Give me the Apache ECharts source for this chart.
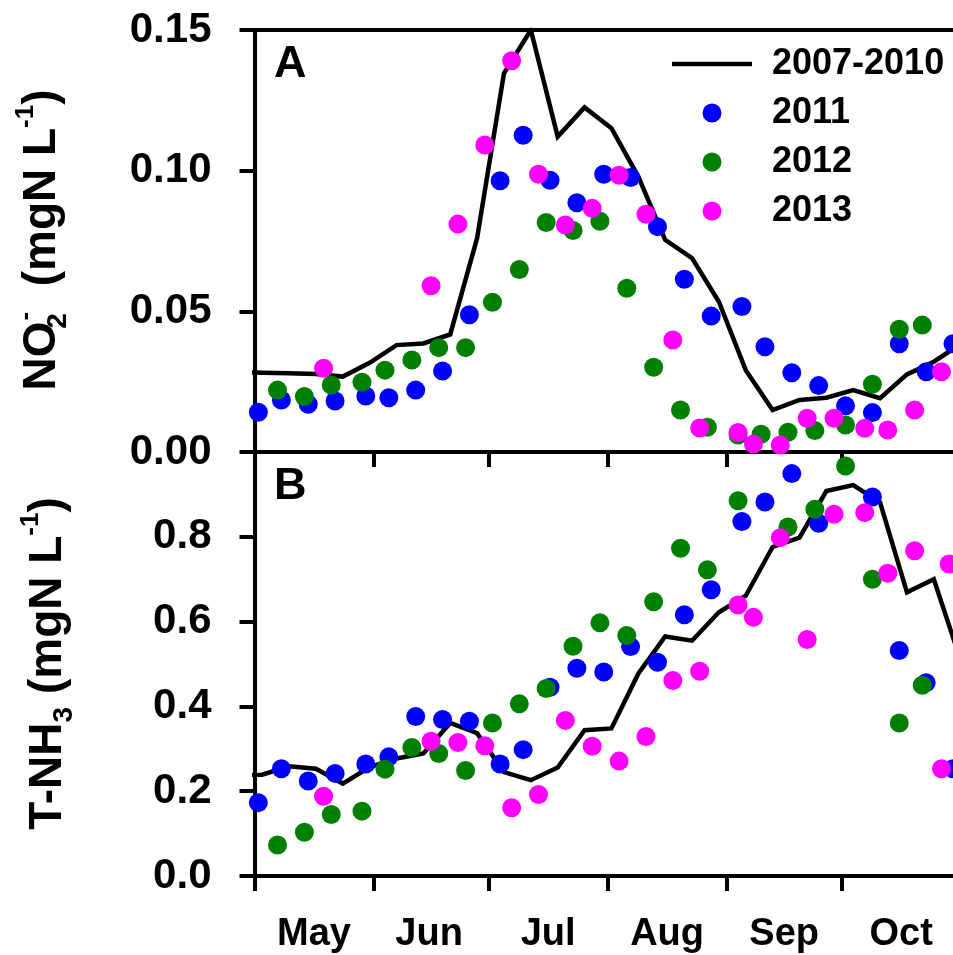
<!DOCTYPE html>
<html><head><meta charset="utf-8">
<script src="https://cdn.jsdelivr.net/npm/echarts@6/dist/echarts.min.js"></script>
<style>html,body{margin:0;padding:0;background:#fff}#c{width:953px;height:955px}</style>
</head><body><div id="c"></div>
<script>
const FONT = '"Liberation Sans", Arial, Helvetica, sans-serif';

// x axis (days since 1 May)
const monthNames = ['May', 'Jun', 'Jul', 'Aug', 'Sep', 'Oct'];
const monthStartDays = [0, 31, 61, 92, 123, 153];
const monthMidDays = [15.5, 45.5, 76.5, 107.5, 138, 168.5];

// 2007-2010 mean (line)
const lineDays = [-5, 2, 9, 16, 23, 30, 37, 44, 51, 58, 65, 72, 79, 86, 93, 100, 107, 114, 121, 128, 135, 142, 149, 156, 163, 170, 177, 184];
const lineNO2 = [0.0283, 0.0282, 0.0280, 0.0277, 0.0268, 0.0317, 0.0380, 0.0386, 0.0418, 0.0760, 0.1346, 0.1500, 0.1121, 0.1225, 0.1151, 0.0979, 0.0754, 0.0689, 0.0534, 0.0291, 0.0149, 0.0185, 0.0193, 0.0220, 0.0191, 0.0276, 0.0321, 0.0384];
const lineNH3 = [0.237, 0.239, 0.259, 0.253, 0.218, 0.257, 0.277, 0.289, 0.361, 0.337, 0.245, 0.226, 0.256, 0.344, 0.348, 0.477, 0.565, 0.555, 0.622, 0.661, 0.776, 0.798, 0.908, 0.922, 0.881, 0.669, 0.700, 0.508];

// 2011
const days2011 = [1, 7, 14, 21, 29, 35, 42, 49, 56, 64, 70, 77, 84, 91, 98, 105, 112, 119, 127, 133, 140, 147, 154, 161, 168, 175, 182];
const no2_2011 = [0.0141, 0.0185, 0.0170, 0.0181, 0.0199, 0.0193, 0.0220, 0.0288, 0.0488, 0.0964, 0.1126, 0.0966, 0.0886, 0.0987, 0.0976, 0.0801, 0.0614, 0.0483, 0.0517, 0.0374, 0.0282, 0.0236, 0.0164, 0.0140, 0.0385, 0.0285, 0.0385];
const nh3_2011 = [0.173, 0.253, 0.224, 0.242, 0.264, 0.281, 0.376, 0.369, 0.365, 0.264, 0.298, 0.445, 0.490, 0.481, 0.541, 0.504, 0.616, 0.675, 0.836, 0.882, 0.949, 0.832, null, 0.894, 0.532, 0.456, 0.253];

// 2012
const days2012 = [6, 13, 20, 28, 34, 41, 48, 55, 62, 69, 76, 83, 90, 97, 104, 111, 118, 126, 132, 139, 146, 154, 161, 168, 174];
const no2_2012 = [0.0220, 0.0197, 0.0238, 0.0248, 0.0291, 0.0327, 0.0371, 0.0371, 0.0532, 0.0649, 0.0816, 0.0787, 0.0820, 0.0582, 0.0301, 0.0149, 0.0088, 0.0060, 0.0063, 0.0070, 0.0076, 0.0096, 0.0241, 0.0436, 0.0451];
const nh3_2012 = [0.073, 0.103, 0.145, 0.153, 0.252, 0.303, 0.289, 0.249, 0.361, 0.406, 0.442, 0.542, 0.597, 0.567, 0.647, 0.773, 0.722, 0.885, null, 0.823, 0.865, 0.967, 0.700, 0.361, 0.450];

// 2013
const days2013 = [18, 46, 53, 60, 67, 74, 81, 88, 95, 102, 109, 116, 126, 130, 137, 144, 151, 159, 165, 172, 179, 181];
const no2_2013 = [0.0298, 0.0591, 0.0810, 0.1091, 0.1391, 0.0987, 0.0807, 0.0866, 0.0984, 0.0845, 0.0398, 0.0085, 0.0069, 0.0028, 0.0025, 0.0120, 0.0120, 0.0084, 0.0078, 0.0149, 0.0285, null];
const nh3_2013 = [0.188, 0.318, 0.315, 0.307, 0.161, 0.192, 0.367, 0.306, 0.271, 0.329, 0.461, 0.483, 0.639, 0.610, 0.798, 0.558, 0.853, 0.857, 0.714, 0.767, 0.253, 0.736];

const seriesNames = ['2007-2010', '2011', '2012', '2013'];
const dotColors = ['#0000FF', '#008000', '#FF00FF'];

function pairs(xs, ys) {
  const out = [];
  xs.forEach((x, i) => { if (ys[i] != null) out.push([x, ys[i]]); });
  return out;
}

const axisLineStyle = { color: '#000', width: 4 };
const tickStyle = { color: '#000', width: 4 };
const labelBase = { color: '#000', fontWeight: 'bold', fontFamily: FONT };

const xBase = {
  type: 'value', min: 0, max: 182,
  splitLine: { show: false },
  axisLine: { show: true, onZero: false, lineStyle: axisLineStyle },
  axisLabel: { show: false }
};

const chart = echarts.init(document.getElementById('c'), null, { renderer: 'canvas' });

const dotSets = [
  [days2011, no2_2011, nh3_2011],
  [days2012, no2_2012, nh3_2012],
  [days2013, no2_2013, nh3_2013]
];

const series = [];
[0, 1].forEach(p => {
  series.push({
    name: seriesNames[0], type: 'line', xAxisIndex: p === 0 ? 0 : 2, yAxisIndex: p,
    data: pairs(lineDays, p === 0 ? lineNO2 : lineNH3),
    symbol: 'none', clip: true,
    lineStyle: { color: '#000', width: 4.5, join: 'miter' },
    itemStyle: { color: '#000' }, z: 2
  });
  dotSets.forEach((d, k) => {
    series.push({
      name: seriesNames[k + 1], type: 'scatter', xAxisIndex: p === 0 ? 0 : 2, yAxisIndex: p,
      data: pairs(d[0], p === 0 ? d[1] : d[2]),
      symbol: 'circle', symbolSize: 19,
      itemStyle: { color: dotColors[k], opacity: 1 }, z: 3 + k
    });
  });
});

const titleRich = {
  m: { fontSize: 46, fontWeight: 'bold', fontFamily: FONT, fill: '#000', lineHeight: 60 },
  sub: { fontSize: 28, fontWeight: 'bold', fontFamily: FONT, fill: '#000', lineHeight: 28, verticalAlign: 'bottom' },
  subw: { fontSize: 28, fontWeight: 'bold', fontFamily: FONT, fill: '#000', lineHeight: 28, verticalAlign: 'bottom', width: 1 },
  sup: { fontSize: 26, fontWeight: 'bold', fontFamily: FONT, fill: '#000', lineHeight: 26, verticalAlign: 'top' }
};

chart.setOption({
  animation: false,
  backgroundColor: '#fff',
  grid: [
    { left: 254.5, right: 0, top: 30, height: 422, outerBoundsMode: 'none', containLabel: false },
    { left: 254.5, right: 0, top: 452, height: 424, outerBoundsMode: 'none', containLabel: false }
  ],
  xAxis: [
    Object.assign({}, xBase, { gridIndex: 0, position: 'bottom',
      axisTick: { show: true, inside: false, length: 15, lineStyle: tickStyle, customValues: monthStartDays } }),
    Object.assign({}, xBase, { gridIndex: 0, position: 'top', axisTick: { show: false } }),
    Object.assign({}, xBase, { gridIndex: 1, position: 'bottom',
      axisTick: { show: true, inside: false, length: 15, lineStyle: tickStyle, customValues: monthStartDays },
      axisLabel: Object.assign({}, labelBase, { show: true, fontSize: 38, margin: 40, customValues: monthMidDays,
        formatter: v => { const i = monthMidDays.indexOf(v); return i >= 0 ? monthNames[i] : ''; } }) })
  ],
  yAxis: [
    { gridIndex: 0, type: 'value', min: 0, max: 0.15, interval: 0.05,
      splitLine: { show: false },
      axisLine: { show: true, onZero: false, lineStyle: axisLineStyle },
      axisTick: { show: true, inside: false, length: 15, lineStyle: tickStyle },
      axisLabel: Object.assign({}, labelBase, { fontSize: 42, margin: 43, formatter: v => v.toFixed(2) }) },
    { gridIndex: 1, type: 'value', min: 0, max: 1, interval: 0.2,
      splitLine: { show: false },
      axisLine: { show: true, onZero: false, lineStyle: axisLineStyle },
      axisTick: { show: true, inside: false, length: 15, lineStyle: tickStyle },
      axisLabel: Object.assign({}, labelBase, { fontSize: 42, margin: 43, formatter: v => (v > 0.99 ? '' : v.toFixed(1)) }) }
  ],
  legend: {
    data: [
      { name: seriesNames[0], icon: 'path://M0,0H80V4.5H0Z' },
      { name: seriesNames[1], icon: 'circle' },
      { name: seriesNames[2], icon: 'circle' },
      { name: seriesNames[3], icon: 'circle' }
    ],
    orient: 'vertical', left: 667, top: 41,
    itemWidth: 80, itemHeight: 19, itemGap: 13,
    symbolKeepAspect: true,
    selectedMode: false,
    textStyle: Object.assign({}, labelBase, { fontSize: 36, lineHeight: 36, padding: [0, 0, 0, 15] })
  },
  graphic: [
    { type: 'text', x: 274, y: 65, silent: true,
      style: { legacy: false, text: 'A', fill: '#000', font: 'bold 45px ' + FONT, align: 'left', verticalAlign: 'middle' } },
    { type: 'text', x: 274, y: 487, silent: true,
      style: { legacy: false, text: 'B', fill: '#000', font: 'bold 45px ' + FONT, align: 'left', verticalAlign: 'middle' } },
    { type: 'text', x: 42.5, y: 240, rotation: Math.PI / 2, silent: true,
      style: { legacy: false, text: '{m|NO}{subw|2}{sup|-}{m|  (mgN L}{sup|-1}{m|)}', rich: titleRich,
        align: 'center', verticalAlign: 'middle', font: 'bold 46px ' + FONT, fill: '#000' } },
    { type: 'text', x: 48, y: 663.5, rotation: Math.PI / 2, silent: true,
      style: { legacy: false, text: '{m|T-NH}{sub|3}{m| (mgN L}{sup|-1}{m|)}', rich: titleRich,
        align: 'center', verticalAlign: 'middle', font: 'bold 46px ' + FONT, fill: '#000' } }
  ],
  series: series
});
</script></body></html>
